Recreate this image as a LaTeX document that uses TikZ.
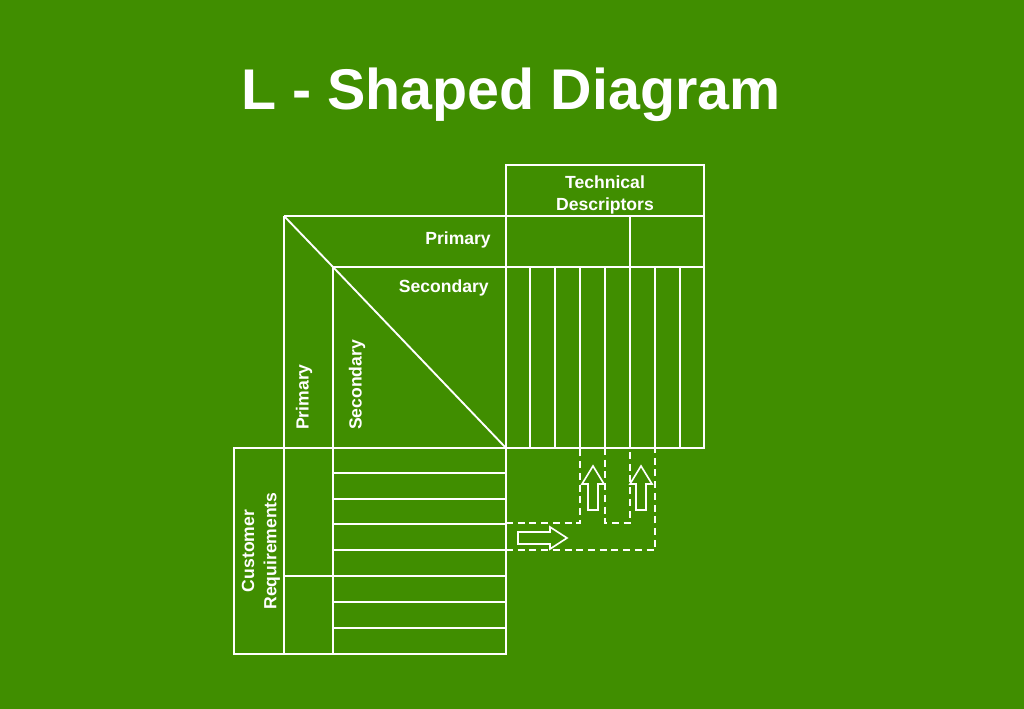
\documentclass[tikz,border=0pt]{standalone}
\usepackage{fontspec}
\setmainfont{Liberation Sans}
\begin{document}
\begin{tikzpicture}[x=0.03cm,y=-0.03cm,
  ln/.style={white,line width=1.6pt},
  dl/.style={white,line width=1.6pt,dash pattern=on 6pt off 4pt},
  lbl/.style={text=white,font=\bfseries\fontsize{15}{19}\selectfont,inner sep=0pt,align=center},
  arr/.style={draw=white,line width=1.4pt,fill=none}]
\fill[fill={rgb,255:red,64;green,142;blue,0}] (0,0) rectangle (1024,709);
\useasboundingbox (0,0) rectangle (1024,709);
\node[text=white,font=\bfseries\fontsize{49}{55}\selectfont] (title) at (511,95) {L - Shaped Diagram};
% top block
\draw[ln] (506,165) rectangle (704,216);
\node[lbl] (td) at (605,195) {Technical\\Descriptors};
\draw[ln] (284,216) -- (704,216) -- (704,448) -- (284,448);
\draw[ln] (333,267) -- (704,267);
\draw[ln] (630,216) -- (630,267);
\foreach \x in {530,555,580,605,630,655,680} \draw[ln] (\x,267) -- (\x,448);
\draw[ln] (284,216) -- (333,267) -- (506,448);
\draw[ln] (284,216) -- (284,654);
\draw[ln] (333,267) -- (333,654);
\draw[ln] (506,165) -- (506,654);
\node[lbl,anchor=east] (p1) at (491,240) {Primary};
\node[lbl,anchor=east] (s1) at (489,288) {Secondary};
\node[lbl,rotate=90,anchor=west] (p2) at (304,430) {Primary};
\node[lbl,rotate=90,anchor=west] (s2) at (357,430) {Secondary};
% left block
\draw[ln] (234,448) rectangle (506,654);
\foreach \y in {473,499,524,550,576,602,628} \draw[ln] (333,\y) -- (506,\y);
\draw[ln] (284,576) -- (333,576);
\node[lbl,rotate=90] (cr) at (261,551) {Customer\\Requirements};
% dashed
\draw[dl] (506,523) -- (580,523) -- (580,448);
\draw[dl] (605,448) -- (605,523) -- (630,523) -- (630,448);
\draw[dl] (506,550) -- (655,550) -- (655,448);
% arrows
\draw[arr] (518,532) -- (550,532) -- (550,527) -- (567,538) -- (550,549) -- (550,544) -- (518,544) -- cycle;
\foreach \c in {593,641}
  \draw[arr] (\c-5,510) -- (\c-5,484) -- (\c-11,484) -- (\c,466) -- (\c+11,484) -- (\c+5,484) -- (\c+5,510) -- cycle;
\end{tikzpicture}
\end{document}
